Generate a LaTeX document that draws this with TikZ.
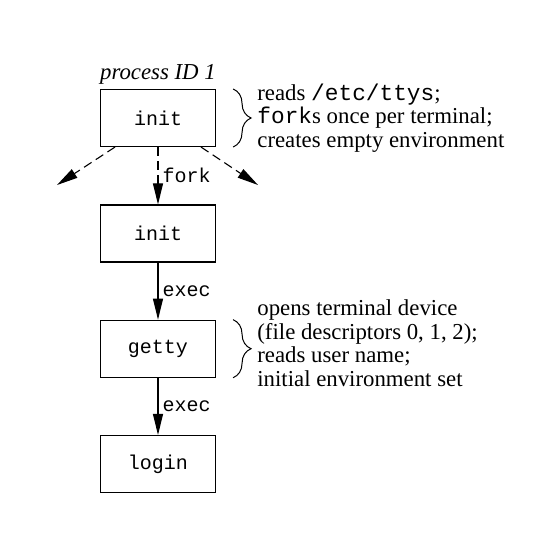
\documentclass[tikz,border=0pt]{standalone}
\usepackage{fontspec}
\setmainfont{Liberation Serif}
\setmonofont{Liberation Mono}
\usetikzlibrary{arrows.meta, positioning, decorations.pathreplacing}

\begin{document}
\begin{tikzpicture}[x=0.5pt,y=-0.5pt,
  proc/.style={draw, line width=0.55pt, minimum width=57.5pt, minimum height=28.5pt, font=\fontsize{10}{12}\ttfamily},
  flow/.style={line width=0.55pt, -{Triangle[length=10.5pt,width=5pt]}},
  forked/.style={flow, dash pattern=on 4.5pt off 2.5pt},
  lbl/.style={right, inner sep=2pt, font=\fontsize{10}{12}\ttfamily},
  note/.style={anchor=west, align=left, inner sep=0pt, font=\fontsize{11.4}{11.8}\selectfont},
  curly/.style={decorate, decoration={brace, amplitude=9pt}, line width=0.5pt}]
\useasboundingbox (0,0) rectangle (535,539);
\node[proc] (init1) at (158,118) {init};
\node[proc] (init2) at (158,233.5) {init};
\node[proc] (getty) at (158,348.7) {getty};
\node[proc] (login) at (158,464) {login};
\node[above=1pt of init1, inner sep=1pt, font=\fontsize{11.4}{12}\itshape] (pid) {process ID 1};
\coordinate (forkl) at (57,185);
\coordinate (forkr) at (258,185);
\draw[forked] ([xshift=-21.5pt]init1.south) -- (forkl);
\draw[forked] ([xshift=21.5pt]init1.south) -- (forkr);
\draw[forked] (init1) -- node[lbl] {fork} (init2);
\draw[flow] (init2) -- node[lbl] {exec} (getty);
\draw[flow] (getty) -- node[lbl] {exec} (login);
\draw[curly] ([xshift=8.5pt]init1.north east) -- ([xshift=8.5pt]init1.south east);
\draw[curly] ([xshift=8.5pt]getty.north east) -- ([xshift=8.5pt]getty.south east);
\node[note] (initnote) at (257,118) {reads \texttt{/etc/ttys};\\ \texttt{fork}s once per terminal;\\ creates empty environment};
\node[note] (gettynote) at (257,343) {opens terminal device\\ (file descriptors 0, 1, 2);\\ reads user name;\\ initial environment set};
\end{tikzpicture}
\end{document}
